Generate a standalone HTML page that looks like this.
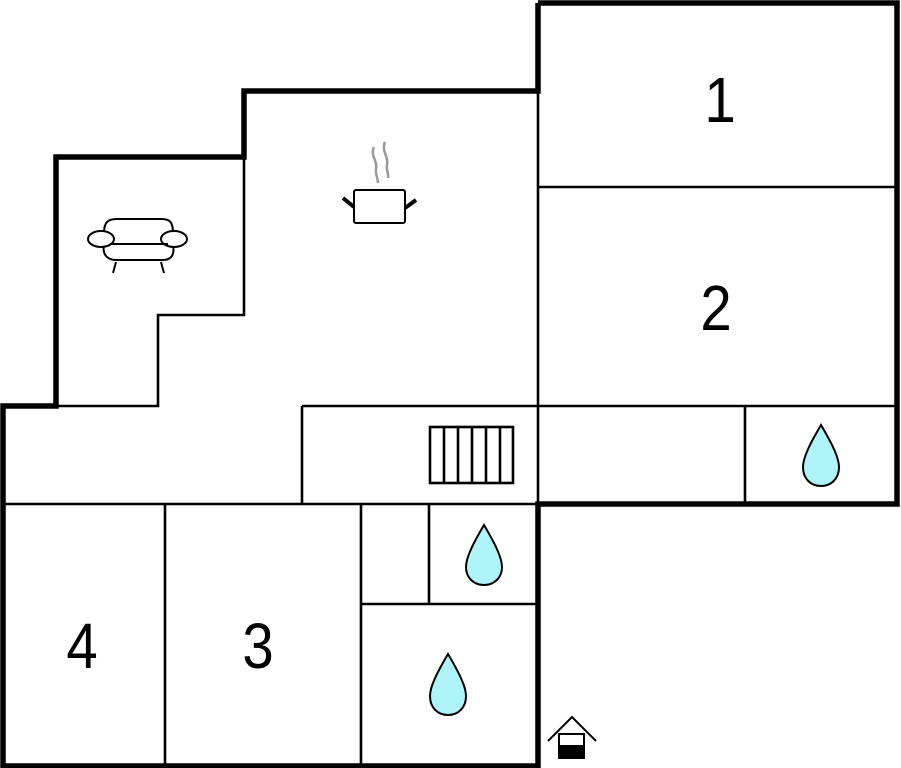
<!DOCTYPE html>
<html><head><style>html,body{margin:0;padding:0;background:#fff}svg{display:block}</style></head><body>
<svg width="901" height="768" viewBox="0 0 901 768" xmlns="http://www.w3.org/2000/svg">
<g fill="none" stroke="#000" stroke-width="2.6">
<polyline points="244,157 244,315 158,315 158,406 56,406"/>
<line x1="538" y1="187" x2="897" y2="187"/>
<line x1="302" y1="406" x2="897" y2="406"/>
<line x1="302" y1="406" x2="302" y2="504"/>
<line x1="538" y1="91" x2="538" y2="504"/>
<line x1="3" y1="504" x2="538" y2="504"/>
<line x1="745" y1="406" x2="745" y2="504"/>
<line x1="165" y1="504" x2="165" y2="766"/>
<line x1="361" y1="504" x2="361" y2="766"/>
<line x1="429" y1="504" x2="429" y2="604"/>
<line x1="361" y1="604" x2="538" y2="604"/>
<rect x="430" y="427" width="83" height="56"/>
<line x1="444" y1="427" x2="444" y2="483"/>
<line x1="458" y1="427" x2="458" y2="483"/>
<line x1="472" y1="427" x2="472" y2="483"/>
<line x1="486" y1="427" x2="486" y2="483"/>
<line x1="500" y1="427" x2="500" y2="483"/>
</g>
<polyline fill="none" stroke="#000" stroke-width="5.5" points="538,3 897,3 897,504 538,504 538,766 3,766 3,406 56,406 56,157 244,157 244,91 538,91 538,3"/>
<g fill="#aef4f8" stroke="#000" stroke-width="2">
<path d="M484,525 C494,542 502,557 502,567 C502,578 494,585 484,585 C474,585 466,578 466,567 C466,557 474,542 484,525Z"/>
<path d="M448,654 C458,671 466,686 466,696 C466,708 458,715 448,715 C438,715 430,708 430,696 C430,686 438,671 448,654Z"/>
<path d="M821,425 C831,442 839,457 839,467 C839,479 831,486 821,486 C811,486 803,479 803,467 C803,457 811,442 821,425Z"/>
</g>
<g fill="#fff" stroke="#000" stroke-width="2">
<path d="M104,233 C104,222 108,219 117,219 L161,219 C170,219 173,222 173,233"/>
<path d="M104,245 C102,255 108,260 116,260 L163,260 C171,260 175,255 173,245"/>
<ellipse cx="101" cy="239" rx="13" ry="8"/>
<ellipse cx="174" cy="239" rx="13" ry="8"/>
<line x1="110" y1="244" x2="168" y2="244"/>
<line x1="116" y1="262" x2="113" y2="273"/>
<line x1="161" y1="262" x2="164" y2="273"/>
</g>
<g stroke="#000" fill="#fff">
<rect x="354" y="190" width="51" height="33" rx="2" stroke-width="2"/>
<line x1="343" y1="198" x2="354" y2="207" stroke-width="4"/>
<line x1="416" y1="200" x2="405" y2="208" stroke-width="4"/>
</g>
<g fill="none" stroke="#999" stroke-width="2.5">
<path d="M374,147 C370,155 378,162 376,169 C375,174 378,178 378,183"/>
<path d="M385,142 C381,151 389,157 387,165 C386,170 389,174 388,178"/>
</g>
<g stroke="#000" stroke-width="2" fill="none">
<polyline points="548,741 572,717 596,741"/>
<rect x="559" y="734" width="25" height="24" fill="#fff"/>
<rect x="559" y="746" width="25" height="12" fill="#000"/>
</g>
<g font-family="Liberation Sans, sans-serif" font-size="64" fill="#000" text-anchor="middle">
<text x="720" y="122" transform="translate(720,0) scale(0.88,1) translate(-720,0)">1</text>
<text x="716" y="330" transform="translate(716,0) scale(0.88,1) translate(-716,0)">2</text>
<text x="82" y="668" transform="translate(82,0) scale(0.88,1) translate(-82,0)">4</text>
<text x="258" y="668" transform="translate(258,0) scale(0.88,1) translate(-258,0)">3</text>
</g>
</svg>
</body></html>
